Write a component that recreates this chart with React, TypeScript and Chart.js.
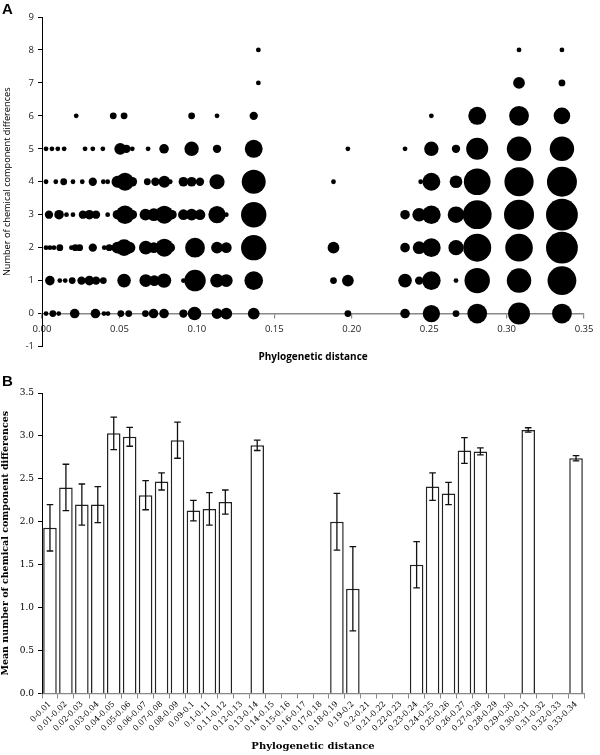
import React, { useEffect, useRef } from 'react';
import { Chart, registerables } from 'chart.js';

Chart.register(...registerables);

// ---------- Panel A: bubble data, [phylogenetic distance, pair count] per row ----------
const diff0 = [[0.0026,1],[0.0070,2],[0.0108,1],[0.0211,4],[0.0345,4],[0.0400,1],[0.0426,1],[0.0509,2],[0.0560,2],[0.0668,2],[0.0720,4],[0.0788,4],[0.0913,3],[0.0985,8],[0.1130,5],[0.1190,6],[0.1367,6],[0.1975,2],[0.2344,4],[0.2514,13],[0.2673,2],[0.2810,17],[0.3080,21],[0.3357,17]];
const diff1 = [[0.0051,4],[0.0115,1],[0.0150,1],[0.0195,2],[0.0255,3],[0.0306,4],[0.0349,3],[0.0396,2],[0.0530,8],[0.0670,7],[0.0725,5],[0.0788,9],[0.0913,1],[0.0988,20],[0.1130,8],[0.1190,7],[0.1367,15],[0.1882,2],[0.1975,6],[0.2344,8],[0.2435,3],[0.2514,15],[0.2673,1],[0.2810,28],[0.3080,26],[0.3357,36]];
const diff2 = [[0.0026,1],[0.0051,1],[0.0077,1],[0.0115,2],[0.0190,1],[0.0215,2],[0.0243,2],[0.0328,3],[0.0402,1],[0.0434,2],[0.0487,6],[0.0530,12],[0.0565,6],[0.0670,8],[0.0722,5],[0.0790,14],[0.0828,4],[0.0988,17],[0.1130,6],[0.1190,5],[0.1367,28],[0.1882,6],[0.2344,4],[0.2435,7],[0.2514,15],[0.2673,10],[0.2810,34],[0.3080,33],[0.3357,44]];
const diff3 = [[0.0045,3],[0.0110,4],[0.0158,1],[0.0200,1],[0.0264,3],[0.0306,4],[0.0349,3],[0.0424,1],[0.0487,4],[0.0536,15],[0.0583,4],[0.0668,6],[0.0722,7],[0.0790,14],[0.0839,4],[0.0913,5],[0.0966,6],[0.1020,5],[0.1130,13],[0.1190,1],[0.1367,28],[0.2344,4],[0.2435,8],[0.2514,15],[0.2673,12],[0.2810,36],[0.3080,39],[0.3357,44]];
const diff4 = [[0.0026,1],[0.0089,1],[0.0140,2],[0.0200,1],[0.0260,1],[0.0328,3],[0.0396,1],[0.0424,1],[0.0487,6],[0.0536,14],[0.0583,4],[0.0680,2],[0.0732,3],[0.0790,6],[0.0828,1],[0.0913,4],[0.0966,4],[0.1020,3],[0.1130,10],[0.1367,25],[0.1882,1],[0.2445,1],[0.2514,14],[0.2673,7],[0.2810,31],[0.3080,37],[0.3357,39]];
const diff5 = [[0.0026,1],[0.0064,1],[0.0102,1],[0.0143,1],[0.0278,1],[0.0328,1],[0.0393,1],[0.0505,6],[0.0545,3],[0.0583,1],[0.0685,1],[0.0788,4],[0.0966,9],[0.1130,3],[0.1367,14],[0.1975,1],[0.2344,1],[0.2514,9],[0.2673,3],[0.2810,21],[0.3080,26],[0.3357,26]];
const diff6 = [[0.0221,1],[0.0460,2],[0.0530,2],[0.0966,2],[0.1130,1],[0.1367,3],[0.2514,1],[0.2810,14],[0.3080,17],[0.3357,12]];
const diff7 = [[0.1397,1],[0.3080,6],[0.3357,2]];
const diff8 = [[0.1397,1],[0.3080,1],[0.3357,1]];
const bubbleRows = [diff0, diff1, diff2, diff3, diff4, diff5, diff6, diff7, diff8];

// ---------- Panel B: mean number of differences per distance bin ----------
const binLabels = ['0-0.01','0.01-0.02','0.02-0.03','0.03-0.04','0.04-0.05','0.05-0.06','0.06-0.07','0.07-0.08','0.08-0.09','0.09-0.1','0.1-0.11','0.11-0.12','0.12-0.13','0.13-0.14','0.14-0.15','0.15-0.16','0.16-0.17','0.17-0.18','0.18-0.19','0.19-0.2','0.2-0.21','0.21-0.22','0.22-0.23','0.23-0.24','0.24-0.25','0.25-0.26','0.26-0.27','0.27-0.28','0.28-0.29','0.29-0.30','0.30-0.31','0.31-0.32','0.32-0.33','0.33-0.34'];
const meanDiff = [1.93,2.40,2.20,2.20,3.03,2.99,2.31,2.47,2.95,2.13,2.15,2.23,null,2.89,null,null,null,null,2.00,1.22,null,null,null,1.50,2.41,2.33,2.83,2.82,null,null,3.07,null,null,2.74];
const seDiff = [0.27,0.27,0.24,0.21,0.19,0.11,0.17,0.10,0.21,0.12,0.19,0.14,null,0.06,null,null,null,null,0.33,0.49,null,null,null,0.27,0.16,0.13,0.15,0.04,null,null,0.025,null,null,0.03];

const sansA = 'Open Sans';
const serifB = 'DejaVu Serif';

const errorBars = {
  id: 'errorBars',
  afterDatasetsDraw(chart: any) {
    const { ctx, scales } = chart;
    const xs = scales.x, ys = scales.y;
    ctx.save();
    ctx.strokeStyle = '#111';
    ctx.lineWidth = 1.3;
    meanDiff.forEach((m, i) => {
      const e = seDiff[i];
      if (m == null || e == null) return;
      const x = xs.getPixelForValue(i);
      const yt = ys.getPixelForValue(m + e);
      const yb = ys.getPixelForValue(m - e);
      ctx.beginPath();
      ctx.moveTo(x, yt); ctx.lineTo(x, yb);
      ctx.moveTo(x - 3.3, yt); ctx.lineTo(x + 3.3, yt);
      ctx.moveTo(x - 3.3, yb); ctx.lineTo(x + 3.3, yb);
      ctx.stroke();
    });
    ctx.restore();
  },
};

export default function App() {
  const refA = useRef<HTMLCanvasElement>(null);
  const refB = useRef<HTMLCanvasElement>(null);

  useEffect(() => {
    const points = bubbleRows.flatMap((row, y) =>
      row.map(([x, n]) => ({ x, y, r: 2.4 * Math.sqrt(n) }))
    );
    const chartA = new Chart(refA.current!, {
      type: 'bubble',
      data: {
        datasets: [{
          data: points,
          backgroundColor: '#000',
          borderWidth: 0,
          hoverRadius: 0,
          clip: false as any,
        }],
      },
      options: {
        animation: false,
        responsive: false,
        maintainAspectRatio: false,
        events: [],
        layout: { padding: { top: 17, right: 10, left: 0, bottom: 23.5 } },
        plugins: { legend: { display: false }, tooltip: { enabled: false } },
        scales: {
          x: {
            type: 'linear',
            min: 0,
            max: 0.35,
            position: { y: 0 } as any,
            ticks: {
              stepSize: 0.05,
              maxRotation: 0,
              padding: 6,
              color: '#222',
              font: { family: sansA, size: 9.5 },
              callback: (v: any) => Number(v).toFixed(2),
            },
            grid: { drawOnChartArea: false, tickLength: 4, color: '#888', lineWidth: 1.2 },
            border: { color: '#888', width: 1.6 },
            title: {
              display: true,
              text: 'Phylogenetic distance',
              color: '#000',
              font: { family: sansA, size: 10, weight: 'bold' },
              padding: { top: 10, bottom: 0 },
            },
          },
          y: {
            min: -1,
            max: 9,
            ticks: { stepSize: 1, padding: 4, color: '#222', font: { family: sansA, size: 9.5 } },
            grid: { drawOnChartArea: false, tickLength: 4, color: '#000' },
            border: { color: '#000', width: 1 },
            title: {
              display: true,
              text: 'Number of chemical component differences',
              color: '#000',
              font: { family: sansA, size: 9.2 },
              padding: { top: 1.5, bottom: 0 },
            },
            afterFit: (s: any) => { s.width = 42; },
          },
        },
      },
    });

    const chartB = new Chart(refB.current!, {
      type: 'bar',
      data: {
        labels: binLabels,
        datasets: [{
          data: meanDiff as any,
          backgroundColor: '#fff',
          borderColor: '#222',
          borderWidth: 1.5,
          barPercentage: 0.85,
          categoryPercentage: 1,
        }],
      },
      options: {
        animation: false,
        responsive: false,
        maintainAspectRatio: false,
        events: [],
        layout: { padding: { top: 23, right: 16, left: 0, bottom: 0 } },
        plugins: { legend: { display: false }, tooltip: { enabled: false } },
        scales: {
          x: {
            ticks: {
              autoSkip: false,
              maxRotation: 45,
              minRotation: 45,
              padding: 1,
              color: '#000',
              font: { family: serifB, size: 8 },
            },
            grid: { drawOnChartArea: false, tickLength: 5, color: '#888', offset: true },
            border: { color: '#888', width: 1.2 },
            title: {
              display: true,
              text: 'Phylogenetic distance',
              color: '#000',
              font: { family: serifB, size: 10, weight: 'bold' },
              padding: { top: 2, bottom: 3 },
            },
            afterFit: (s: any) => { s.height = 61.5; },
          },
          y: {
            min: 0,
            max: 3.5,
            ticks: {
              stepSize: 0.5,
              padding: 4,
              color: '#000',
              font: { family: serifB, size: 9 },
              callback: (v: any) => Number(v).toFixed(1),
            },
            grid: { drawOnChartArea: false, tickLength: 4, color: '#000' },
            border: { color: '#000', width: 1 },
            title: {
              display: true,
              text: 'Mean number of chemical component differences',
              color: '#000',
              font: { family: serifB, size: 9.5, weight: 'bold' },
              padding: { top: 0, bottom: 0 },
            },
            afterFit: (s: any) => { s.width = 42; },
          },
        },
      },
      plugins: [errorBars],
    });

    return () => { chartA.destroy(); chartB.destroy(); };
  }, []);

  const panelLabel: React.CSSProperties = {
    position: 'absolute', left: 2, fontFamily: 'Liberation Sans, Arial, sans-serif',
    fontWeight: 'bold', fontSize: 15, lineHeight: '15px', color: '#000',
  };

  return (
    <div style={{ position: 'absolute', left: 0, top: 0, width: 600, height: 755, background: '#fff' }}>
      <canvas ref={refA} width={600} height={370} style={{ position: 'absolute', left: 0, top: 0, width: 600, height: 370 }} />
      <canvas ref={refB} width={600} height={385} style={{ position: 'absolute', left: 0, top: 370, width: 600, height: 385 }} />
      <div style={{ ...panelLabel, top: 1 }}>A</div>
      <div style={{ ...panelLabel, top: 373 }}>B</div>
    </div>
  );
}
